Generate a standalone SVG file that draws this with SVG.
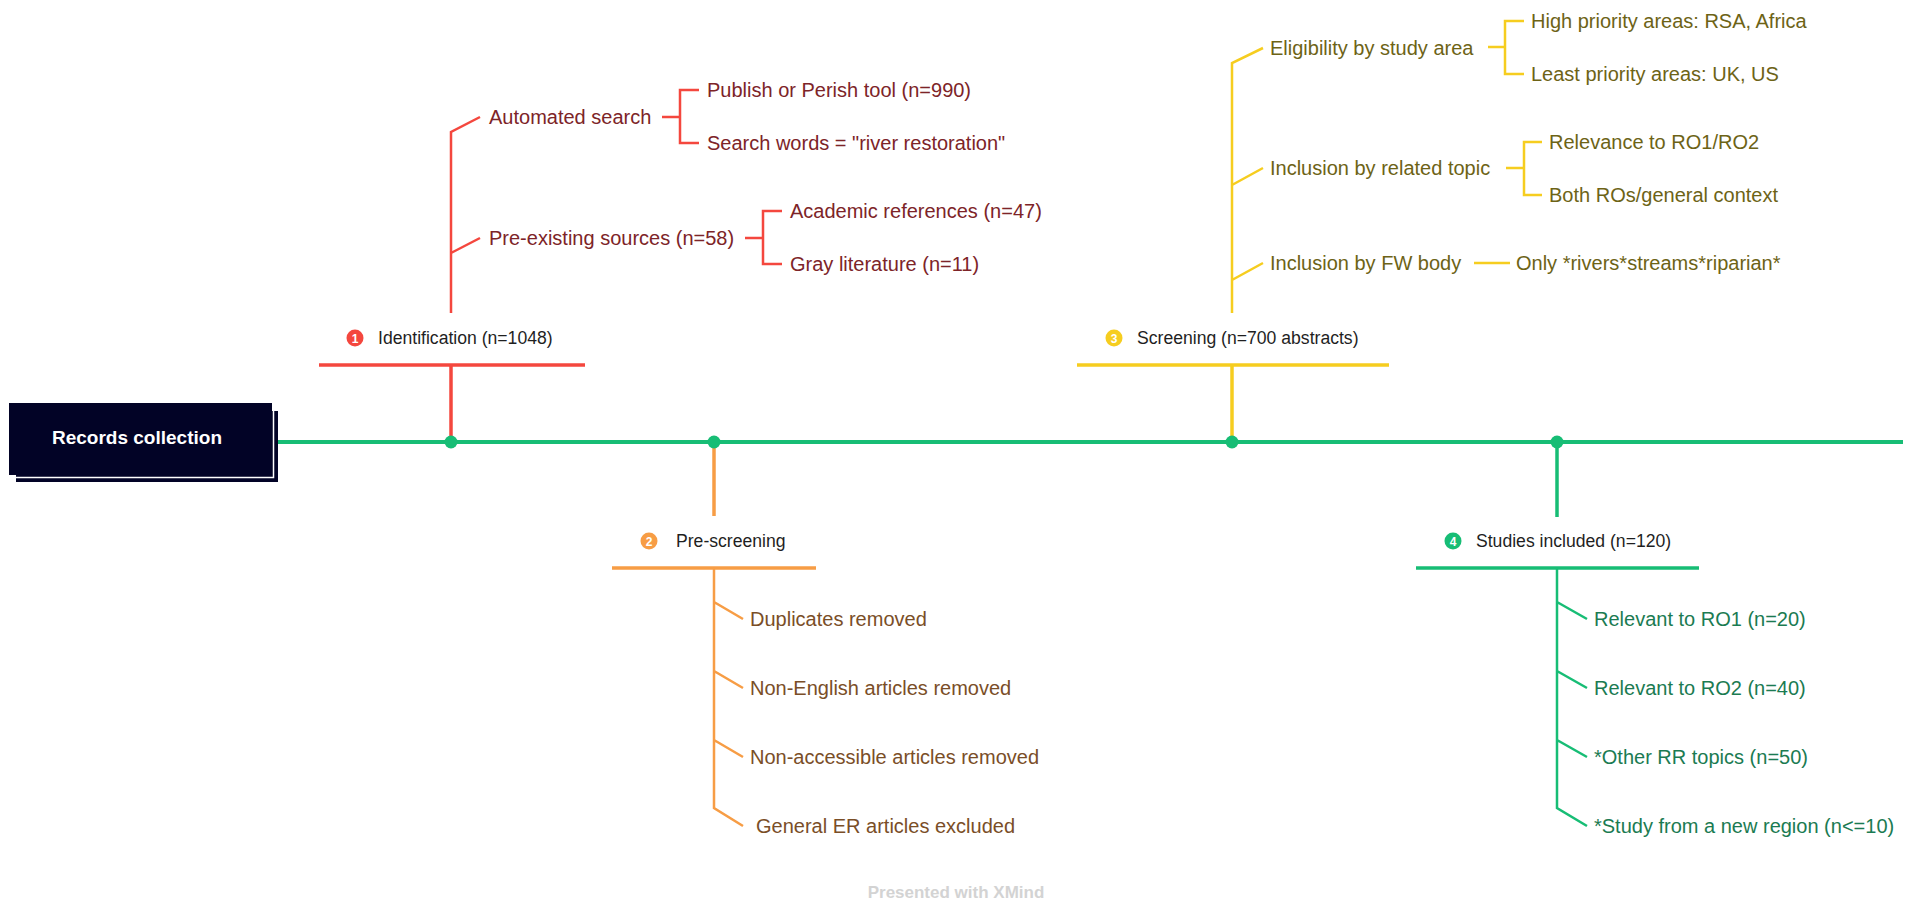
<svg xmlns="http://www.w3.org/2000/svg" width="1913" height="905" viewBox="0 0 1913 905">
<style>
text{font-family:"Liberation Sans",Arial,sans-serif;dominant-baseline:central}
.lbl{font-size:17.6px;fill:#1f1f1f}
.sub{font-size:20px}
.ico{font-size:12px;font-weight:bold;fill:#fff;text-anchor:middle}
.r{stroke:#f4473e}.o{stroke:#f79d45}.y{stroke:#f6cd1f}.g{stroke:#17bd75}
.rt{fill:#7d2428}.ot{fill:#7a4e27}.yt{fill:#6d6316}.gt{fill:#1b7b52}
.thick{stroke-width:3.5;fill:none}
.thin{stroke-width:2.5;fill:none;stroke-linejoin:miter}
</style>
<rect width="1913" height="905" fill="#fff"/>

<g id="connectors">
  <line x1="277" y1="442" x2="1903" y2="442" stroke="#17bd75" stroke-width="4"/>
  <line class="r thick" x1="451" y1="442" x2="451" y2="365"/>
  <line class="o thick" x1="714" y1="442" x2="714" y2="516"/>
  <line class="y thick" x1="1232" y1="442" x2="1232" y2="365"/>
  <line class="g thick" x1="1557" y1="442" x2="1557" y2="517"/>
  <path class="r thin" d="M451 313 V132 L480 117 M451 253 L480 238"/>
  <path class="r thin" d="M662 117 H680 M699 90 H680 V143 H699"/>
  <path class="r thin" d="M745 238 H763 M782 211 H763 V264 H782"/>
  <path class="o thin" d="M714 568 V808 L743 826 M714 602 L743 619 M714 671 L743 688 M714 740 L743 757"/>
  <path class="y thin" d="M1232 313 V63 L1263 48 M1232 185 L1263 168 M1232 280 L1263 263"/>
  <path class="y thin" d="M1488 47 H1505 M1524 21 H1505 V74 H1524"/>
  <path class="y thin" d="M1506 168 H1524 M1542 142 H1524 V195 H1542"/>
  <path class="y thin" d="M1474 263 H1510"/>
  <path class="g thin" d="M1557 568 V808 L1587 826 M1557 602 L1587 619 M1557 671 L1587 688 M1557 740 L1587 757"/>
  <circle cx="451" cy="442" r="6.5" fill="#17bd75"/>
  <circle cx="714" cy="442" r="6.5" fill="#17bd75"/>
  <circle cx="1232" cy="442" r="6.5" fill="#17bd75"/>
  <circle cx="1557" cy="442" r="6.5" fill="#17bd75"/>
</g>

<g id="root">
  <rect x="16" y="411" width="262" height="71" fill="#020326"/>
  <rect x="14" y="409" width="259.5" height="68.5" fill="none" stroke="#fff" stroke-width="1.5"/>
  <rect x="9" y="403" width="263" height="72" fill="#020326"/>
  <text x="137" y="437" font-size="19px" font-weight="bold" fill="#fff" text-anchor="middle">Records collection</text>
</g>

<g id="identification">
  <line class="r" x1="319" y1="365" x2="585" y2="365" stroke-width="3.5"/>
  <circle cx="355" cy="338" r="8.5" fill="#f4473e"/>
  <text class="ico" x="355" y="338.5">1</text>
  <text class="lbl" x="378" y="338">Identification (n=1048)</text>
</g>
<g id="automated-search"><text class="sub rt" x="489" y="117">Automated search</text></g>
<g id="publish-perish"><text class="sub rt" x="707" y="90">Publish or Perish tool (n=990)</text></g>
<g id="search-words"><text class="sub rt" x="707" y="143">Search words = "river restoration"</text></g>
<g id="pre-existing"><text class="sub rt" x="489" y="238">Pre-existing sources (n=58)</text></g>
<g id="academic"><text class="sub rt" x="790" y="211">Academic references (n=47)</text></g>
<g id="gray"><text class="sub rt" x="790" y="264">Gray literature (n=11)</text></g>

<g id="pre-screening">
  <line class="o" x1="612" y1="568" x2="816" y2="568" stroke-width="3.5"/>
  <circle cx="649" cy="541" r="8.5" fill="#f79d45"/>
  <text class="ico" x="649" y="541.5">2</text>
  <text class="lbl" x="676" y="541">Pre-screening</text>
</g>
<g id="duplicates"><text class="sub ot" x="750" y="619">Duplicates removed</text></g>
<g id="non-english"><text class="sub ot" x="750" y="688">Non-English articles removed</text></g>
<g id="non-accessible"><text class="sub ot" x="750" y="757">Non-accessible articles removed</text></g>
<g id="general-er"><text class="sub ot" x="756" y="826">General ER articles excluded</text></g>

<g id="screening">
  <line class="y" x1="1077" y1="365" x2="1389" y2="365" stroke-width="3.5"/>
  <circle cx="1114" cy="338" r="8.5" fill="#f6cd1f"/>
  <text class="ico" x="1114" y="338.5">3</text>
  <text class="lbl" x="1137" y="338">Screening (n=700 abstracts)</text>
</g>
<g id="eligibility"><text class="sub yt" x="1270" y="48">Eligibility by study area</text></g>
<g id="high-priority"><text class="sub yt" x="1531" y="21">High priority areas: RSA, Africa</text></g>
<g id="least-priority"><text class="sub yt" x="1531" y="74">Least priority areas: UK, US</text></g>
<g id="related-topic"><text class="sub yt" x="1270" y="168">Inclusion by related topic</text></g>
<g id="relevance"><text class="sub yt" x="1549" y="142">Relevance to RO1/RO2</text></g>
<g id="both-ros"><text class="sub yt" x="1549" y="195">Both ROs/general context</text></g>
<g id="fw-body"><text class="sub yt" x="1270" y="263">Inclusion by FW body</text></g>
<g id="only-rivers"><text class="sub yt" x="1516" y="263">Only *rivers*streams*riparian*</text></g>

<g id="studies-included">
  <line class="g" x1="1416" y1="568" x2="1699" y2="568" stroke-width="3.5"/>
  <circle cx="1453" cy="541" r="8.5" fill="#17bd75"/>
  <text class="ico" x="1453" y="541.5">4</text>
  <text class="lbl" x="1476" y="541">Studies included (n=120)</text>
</g>
<g id="ro1"><text class="sub gt" x="1594" y="619">Relevant to RO1 (n=20)</text></g>
<g id="ro2"><text class="sub gt" x="1594" y="688">Relevant to RO2 (n=40)</text></g>
<g id="other-rr"><text class="sub gt" x="1594" y="757">*Other RR topics (n=50)</text></g>
<g id="new-region"><text class="sub gt" x="1594" y="826">*Study from a new region (n&lt;=10)</text></g>

<text x="956" y="892" font-size="17px" font-weight="bold" fill="#d3d3d3" text-anchor="middle">Presented with XMind</text>
</svg>
